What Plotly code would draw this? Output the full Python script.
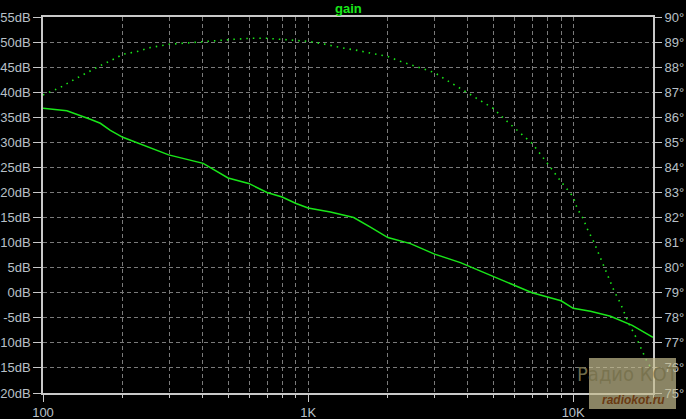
import plotly.graph_objects as go

# ---- data ----
mag_freq = [100, 123, 150.8, 164.5, 179.5, 200, 298, 402, 499, 597, 700, 798, 901, 1000,
            1214, 1486, 1718, 2000, 2432, 3000, 3755, 4403, 5395, 6146, 7000, 9000,
            10000, 11620, 13830, 16700, 20000]
mag_db = [36.8, 36.3, 34.6, 33.8, 32.4, 31.0, 27.5, 25.8, 22.9, 21.8, 20.0, 19.1, 17.8, 16.9,
          16.1, 15.0, 13.1, 11.0, 9.8, 7.7, 6.0, 4.5, 2.5, 1.3, 0.0, -1.6,
          -3.1, -3.7, -4.7, -6.5, -8.9]

ph_freq = [100, 106.5, 116.2, 131.3, 150.8, 164.5, 187.5, 200, 226.3, 254, 298, 339, 402,
           453.6, 524, 606, 700, 786, 882, 1000, 1113, 1206, 1374, 1531, 1670, 1820, 2000,
           2230, 2540, 2730, 3000, 3249, 3701, 4121, 4599, 5000, 5553, 6000, 6706, 7000,
           8000, 9000, 10000, 10354, 10907, 11290, 11959, 12677, 13156, 14230, 15085,
           16212, 17440, 18740, 19870]
ph_deg = [86.89, 87.02, 87.19, 87.51, 87.86, 88.06, 88.35, 88.51, 88.62, 88.78, 88.91, 88.96, 89.01,
          89.07, 89.11, 89.15, 89.15, 89.11, 89.07, 89.03, 88.95, 88.87, 88.75, 88.67, 88.59, 88.51, 88.42,
          88.23, 88.02, 87.92, 87.78, 87.55, 87.19, 86.86, 86.59, 86.35, 85.89, 85.58, 85.12, 84.96,
          84.16, 83.43, 82.83, 82.36, 81.96, 81.56, 81.03, 80.37, 79.97, 79.10, 78.57,
          77.77, 77.13, 76.38, 75.91]

x_major = [100, 1000, 10000]
x_major_text = ["100", "1K", "10K"]
x_minor = [m * d for d in (100, 1000) for m in range(2, 10)] + [20000]

db_ticks = list(range(-20, 60, 5))
db_text = [f"{v}dB" for v in db_ticks]
deg_ticks = list(range(75, 91))
deg_text = [f"{v}°" for v in deg_ticks]

title_text = "gain"

# ---- styling ----
GREEN = "#19e619"
GRID = "#7a7a7a"
AXIS = "#c8c8c8"
LABEL = "#b8c0c8"
FONT = "Liberation Sans, Arial, sans-serif"

fig = go.Figure()
fig.add_trace(go.Scatter(x=mag_freq, y=mag_db, mode="lines",
                         line=dict(color=GREEN, width=1.5), yaxis="y", showlegend=False))
fig.add_trace(go.Scatter(x=ph_freq, y=ph_deg, mode="lines",
                         line=dict(color=GREEN, width=1.6, dash="1.5px,5px"), yaxis="y2",
                         showlegend=False))

fig.update_layout(
    width=686, height=419,
    margin=dict(l=43, r=33, t=17, b=26, autoexpand=False),
    paper_bgcolor="black", plot_bgcolor="black",
    font=dict(family=FONT, size=13, color=LABEL),
    xaxis=dict(
        type="log", range=[2, 4.30103], automargin=False,
        tickvals=x_major, ticktext=x_major_text,
        ticks="outside", ticklen=7, tickwidth=1, tickcolor=AXIS,
        showline=True, linecolor=AXIS, linewidth=1.5, mirror=True,
        showgrid=True, gridcolor=GRID, griddash="4px,3px", gridwidth=1,
        zeroline=False,
        tickfont=dict(family=FONT, size=13, color=LABEL),
        minor=dict(tickvals=x_minor, ticks="outside", ticklen=3, tickcolor=AXIS,
                   showgrid=True, gridcolor=GRID, griddash="4px,3px", gridwidth=1),
    ),
    yaxis=dict(
        range=[-20, 55], tickvals=db_ticks, ticktext=db_text, automargin=False,
        ticks="outside", ticklen=8, tickwidth=1, tickcolor=AXIS,
        showline=True, linecolor=AXIS, linewidth=1.5, mirror=True,
        showgrid=True, gridcolor=GRID, griddash="4px,3px", gridwidth=1,
        zeroline=False,
        tickfont=dict(family=FONT, size=13, color=LABEL),
    ),
    yaxis2=dict(
        range=[75, 90], tickvals=deg_ticks, ticktext=deg_text, automargin=False,
        overlaying="y", side="right",
        ticks="outside", ticklen=8, tickwidth=1, tickcolor=AXIS,
        showgrid=False, zeroline=False, showline=False,
        tickfont=dict(family=FONT, size=13, color=LABEL),
    ),
)

fig.add_annotation(text="<b>" + title_text + "</b>", xref="paper", yref="paper",
                   x=0.5, y=1, yshift=9, yanchor="middle", showarrow=False,
                   font=dict(family=FONT, size=13, color=GREEN))

# watermark box (bottom-right)
fig.add_shape(type="rect", xref="paper", yref="paper",
              x0=(589 - 43) / 610, x1=(676 - 43) / 610,
              y0=-(409 - 393) / 376, y1=(393 - 358) / 376,
              fillcolor="rgba(196,188,142,0.70)", line=dict(width=0), layer="above")
fig.add_annotation(text="Радио КОТ", xref="paper", yref="paper",
                   x=(628 - 43) / 610, y=(393 - 374) / 376, showarrow=False,
                   xanchor="center", yanchor="middle",
                   font=dict(family="DejaVu Sans Condensed, Liberation Sans Narrow, sans-serif",
                             size=20, color="rgba(120,114,78,0.95)"))
fig.add_annotation(text="<b><i>radiokot.ru</i></b>", xref="paper", yref="paper",
                   x=(633 - 43) / 610, y=-(400 - 393) / 376, showarrow=False,
                   xanchor="center", yanchor="middle",
                   font=dict(family=FONT, size=12, color="#6a3a12"))

fig.write_html(
    "out.html",
    config={"displayModeBar": False},
    post_script="document.body.style.margin='0';document.body.style.background='black';"
                "document.body.style.overflow='hidden';",
)
